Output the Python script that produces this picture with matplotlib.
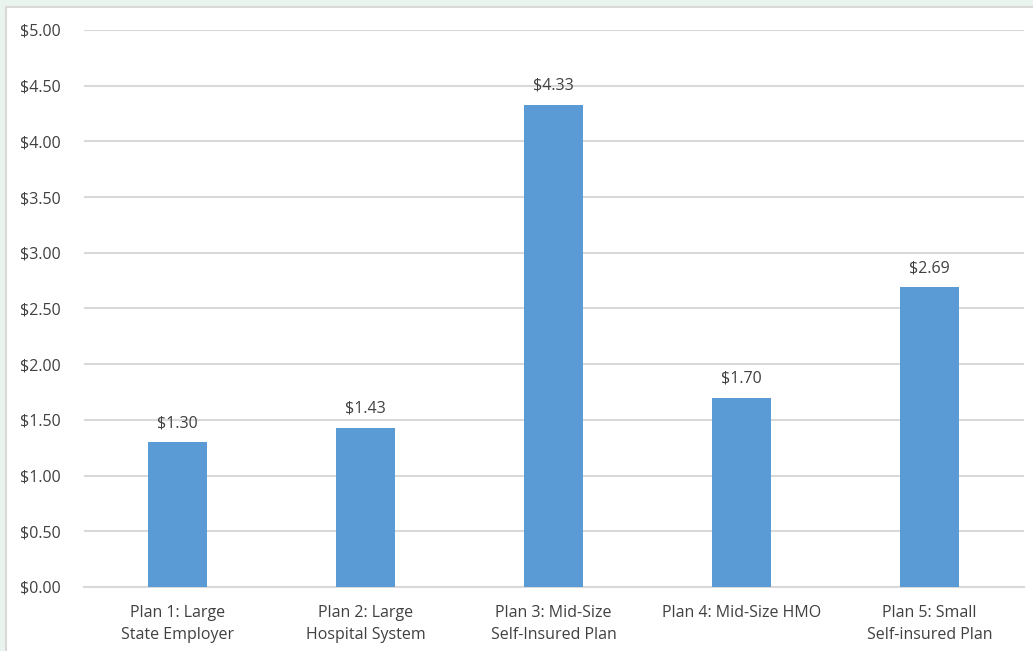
import matplotlib.pyplot as plt
from matplotlib.patches import Rectangle

plans = ["Plan 1: Large\nState Employer", "Plan 2: Large\nHospital System",
         "Plan 3: Mid-Size\nSelf-Insured Plan", "Plan 4: Mid-Size HMO",
         "Plan 5: Small\nSelf-insured Plan"]
costs = [1.30, 1.43, 4.33, 1.70, 2.69]
y_ticks = [0, 0.5, 1.0, 1.5, 2.0, 2.5, 3.0, 3.5, 4.0, 4.5, 5.0]

plt.rcParams['font.family'] = ['Open Sans', 'DejaVu Sans']
txt = '#404040'

fig = plt.figure(figsize=(10.33, 6.51), dpi=100)
fig.patch.set_facecolor('#eaf4ee')

# white chart area with a thin grey frame (runs off right/bottom edges)
bg = fig.add_axes([0, 0, 1, 1], zorder=-1)
bg.set_xlim(0, 1033)
bg.set_ylim(651, 0)
bg.axis('off')
bg.add_patch(Rectangle((6, 7), 1100, 700, facecolor='white',
                       edgecolor='#d9d9d9', linewidth=1.5))

ax = fig.add_axes([83.5 / 1033, 1 - 587 / 651, 940 / 1033, 557 / 651])
ax.set_facecolor('none')

x = range(len(plans))
bars = ax.bar(x, costs, width=0.31, color='#5b9bd5', zorder=3)
for b, v in zip(bars, costs):
    ax.text(b.get_x() + b.get_width() / 2, v + 0.1, "${:.2f}".format(v),
            ha='center', va='bottom', fontsize=11.5, color=txt)

ax.set_xlim(-0.5, 4.5)
ax.set_ylim(0, 5)
ax.set_yticks(y_ticks)
ax.set_yticklabels(["${:.2f}".format(t) for t in y_ticks])
ax.set_xticks(list(x))
ax.set_xticklabels(plans, linespacing=1.5)
ax.grid(axis='y', color='#d9d9d9', linewidth=1.5, zorder=0)
ax.tick_params(axis='both', length=0, labelsize=11.5, colors=txt)
ax.tick_params(axis='x', pad=13)
for s in ['top', 'right', 'left']:
    ax.spines[s].set_visible(False)
ax.spines['bottom'].set_color('#d9d9d9')
ax.spines['bottom'].set_linewidth(1.5)
for lab in ax.get_yticklabels():
    lab.set_horizontalalignment('left')
ax.tick_params(axis='y', pad=46)

fig.savefig('out.png', dpi=100, facecolor=fig.get_facecolor())
